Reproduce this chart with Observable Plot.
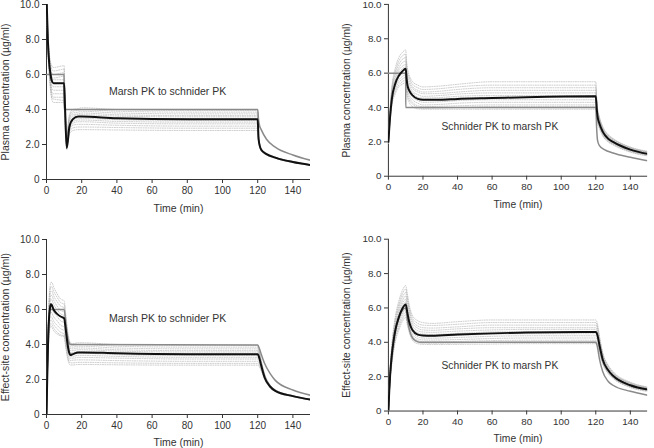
<!DOCTYPE html>
<html>
<head>
<meta charset="utf-8">
<script src="https://cdn.jsdelivr.net/npm/d3@7"></script>
<script src="https://cdn.jsdelivr.net/npm/@observablehq/plot@0.6"></script>
<style>
  html, body { margin: 0; padding: 0; background: #fff; }
  #wrap { position: relative; width: 654px; height: 448px; overflow: hidden; background: #fff; }
  .panel { position: absolute; }
</style>
</head>
<body>
<div id="wrap"></div>
<script>
// ---------- shared ticks ----------
const xTicks = [0, 20, 40, 60, 80, 100, 120, 140];
const yTicks = [0, 2, 4, 6, 8, 10];
const yTickLabels = ["0", "2.0", "4.0", "6.0", "8.0", "10.0"];
const xLabel = "Time (min)";
const yLabelPlasma = "Plasma concentration (µg/ml)";
const yLabelEffect = "Effect-site concentration (µg/ml)";
const noteMarshToSchnider = "Marsh PK to schnider PK";
const noteSchniderToMarsh = "Schnider PK to marsh PK";

// ---------- Panel 1: plasma, Marsh PK to Schnider PK ----------
const p1Time = [0,0.75,1.5,2.3,3,4,10,10.5,11.5,13,15,18,20,40,80,120,120.5,122,125,130,140,150];
const p1Mean = [10.5,8.0,6.7,6.0,5.65,5.5,5.5,4.2,1.8,3.0,3.45,3.6,3.6,3.5,3.45,3.45,2.3,1.7,1.45,1.25,1.0,0.83];
const p1Indiv = [
  [10.5,8.6,7.3,6.7,6.5,6.4,6.5,4.8,2.6,3.7,4.0,4.05,4.1,4.0,3.95,3.95,2.5,1.76,1.5,1.28,1.02,0.85],
  [10.5,8.5,7.2,6.6,6.3,6.2,6.3,4.6,2.5,3.6,3.9,3.95,4.0,3.9,3.85,3.85,2.45,1.75,1.49,1.28,1.02,0.85],
  [10.5,8.4,7.0,6.4,6.1,6.0,6.1,4.5,2.4,3.5,3.8,3.85,3.9,3.8,3.75,3.75,2.45,1.74,1.48,1.27,1.01,0.84],
  [10.5,8.3,6.9,6.2,5.9,5.8,5.9,4.4,2.3,3.4,3.7,3.75,3.8,3.7,3.65,3.65,2.4,1.73,1.47,1.26,1.01,0.84],
  [10.5,8.2,6.8,6.1,5.8,5.7,5.7,4.3,2.2,3.3,3.6,3.7,3.7,3.62,3.58,3.58,2.4,1.72,1.46,1.26,1.0,0.84],
  [10.5,8.1,6.7,6.0,5.6,5.5,5.5,4.2,2.1,3.2,3.5,3.6,3.6,3.52,3.48,3.48,2.35,1.71,1.46,1.25,1.0,0.83],
  [10.5,8.0,6.6,5.8,5.4,5.3,5.3,4.1,2.0,3.1,3.4,3.5,3.5,3.42,3.38,3.38,2.35,1.7,1.45,1.25,0.99,0.83],
  [10.5,7.9,6.5,5.7,5.2,5.1,5.1,3.9,1.9,3.0,3.3,3.4,3.4,3.32,3.28,3.28,2.3,1.69,1.44,1.24,0.99,0.83],
  [10.5,7.8,6.4,5.5,5.0,4.9,4.9,3.8,1.9,2.9,3.2,3.3,3.3,3.22,3.18,3.18,2.3,1.68,1.44,1.24,0.98,0.82],
  [10.5,7.7,6.3,5.4,4.9,4.7,4.7,3.6,1.8,2.8,3.1,3.15,3.15,3.1,3.05,3.05,2.25,1.67,1.43,1.23,0.98,0.82],
  [10.5,7.6,6.2,5.2,4.7,4.6,4.5,3.5,1.8,2.7,2.95,3.0,3.0,2.97,2.93,2.93,2.2,1.66,1.42,1.22,0.97,0.81],
  [10.5,7.5,6.1,5.1,4.6,4.4,4.4,3.4,1.7,2.6,2.8,2.85,2.85,2.83,2.8,2.8,2.2,1.65,1.41,1.21,0.97,0.81]
];
const p1GrayTime = [0,10,10.01,120,120.5,121,122,125,130,140,150];
const p1Gray = [6.0,6.0,4.0,4.0,3.4,3.1,2.85,2.3,1.85,1.4,1.1];

// ---------- Panel 2: plasma, Schnider PK to Marsh PK ----------
const p2Time = [0,1,2,4,6,8,10,10.5,11,12,14,17,20,30,40,60,80,120,120.5,121,122,124,127,130,140,150];
const p2Mean = [2.0,3.5,4.5,5.4,5.85,6.1,6.25,5.7,5.3,5.0,4.7,4.5,4.45,4.45,4.5,4.55,4.6,4.65,4.0,3.5,3.1,2.6,2.2,2.0,1.55,1.3];
const p2Indiv = [
  [2.2,4.0,5.2,6.3,6.9,7.2,7.35,6.7,6.3,5.9,5.5,5.3,5.2,5.25,5.35,5.5,5.5,5.5,4.6,4.0,3.5,2.9,2.45,2.2,1.7,1.45],
  [2.15,3.9,5.1,6.1,6.7,7.0,7.1,6.5,6.1,5.75,5.35,5.15,5.05,5.1,5.2,5.3,5.3,5.3,4.5,3.9,3.45,2.85,2.4,2.17,1.68,1.43],
  [2.1,3.8,5.0,5.95,6.5,6.8,6.9,6.3,5.9,5.6,5.2,5.0,4.9,4.95,5.05,5.15,5.15,5.15,4.4,3.8,3.4,2.8,2.37,2.14,1.66,1.41],
  [2.1,3.75,4.9,5.8,6.3,6.6,6.7,6.1,5.75,5.45,5.1,4.9,4.8,4.82,4.9,5.0,5.0,5.0,4.3,3.75,3.35,2.75,2.33,2.1,1.63,1.39],
  [2.05,3.7,4.8,5.65,6.15,6.4,6.5,5.95,5.6,5.3,4.95,4.75,4.65,4.7,4.78,4.85,4.85,4.85,4.2,3.7,3.3,2.7,2.3,2.07,1.61,1.37],
  [2.05,3.6,4.7,5.55,6.0,6.25,6.35,5.8,5.45,5.15,4.85,4.6,4.55,4.58,4.65,4.7,4.7,4.7,4.1,3.6,3.2,2.65,2.25,2.03,1.58,1.34],
  [2.0,3.55,4.6,5.45,5.9,6.1,6.2,5.7,5.35,5.05,4.75,4.5,4.45,4.48,4.55,4.6,4.6,4.6,4.0,3.5,3.1,2.6,2.2,2.0,1.55,1.32],
  [2.0,3.5,4.5,5.3,5.75,5.95,6.05,5.55,5.2,4.9,4.6,4.4,4.3,4.33,4.4,4.45,4.45,4.45,3.9,3.45,3.05,2.55,2.16,1.96,1.52,1.29],
  [1.95,3.4,4.4,5.2,5.6,5.8,5.9,5.4,5.05,4.75,4.45,4.25,4.15,4.18,4.25,4.3,4.3,4.3,3.8,3.35,3.0,2.5,2.12,1.93,1.49,1.27],
  [1.95,3.35,4.3,5.05,5.45,5.65,5.75,5.25,4.9,4.6,4.3,4.1,4.05,4.07,4.1,4.15,4.15,4.15,3.7,3.3,2.95,2.45,2.08,1.9,1.46,1.24],
  [1.9,3.3,4.2,4.95,5.3,5.5,5.6,5.1,4.75,4.45,4.2,4.0,3.95,3.97,4.0,4.05,4.05,4.05,3.6,3.2,2.9,2.4,2.04,1.86,1.43,1.21],
  [1.9,3.2,4.1,4.8,5.2,5.35,5.45,4.95,4.6,4.3,4.05,3.92,3.9,3.9,3.9,3.9,3.9,3.9,3.5,3.1,2.8,2.35,2.0,1.82,1.4,1.18]
];
const p2GrayTime = [0,10,10.01,120,120.5,121,122,125,130,140,150];
const p2Gray = [6.0,6.0,4.0,4.0,2.8,2.1,1.8,1.55,1.35,1.1,0.9];

// ---------- Panel 3: effect-site, Marsh PK to Schnider PK ----------
const p3Time = [0,0.5,1,1.5,2,2.5,3,4,6,8,10,11,12,13,13.5,15,18,20,40,80,120,121,122,124,127,130,140,150];
const p3Mean = [0,2.5,4.5,5.6,6.1,6.3,6.25,6.0,5.75,5.6,5.5,4.8,4.0,3.5,3.4,3.45,3.55,3.55,3.5,3.45,3.45,3.2,2.8,2.1,1.6,1.35,1.05,0.85];
const p3Indiv = [
  [0,2.8,5.2,6.6,7.3,7.55,7.55,7.3,6.9,6.6,6.5,5.7,4.8,4.25,4.1,4.05,4.1,4.1,4.0,3.95,3.95,3.6,3.1,2.3,1.7,1.42,1.08,0.87],
  [0,2.75,5.1,6.45,7.1,7.3,7.3,7.05,6.7,6.4,6.3,5.5,4.65,4.15,4.0,3.95,4.0,4.0,3.9,3.85,3.85,3.55,3.05,2.28,1.69,1.41,1.07,0.86],
  [0,2.7,4.95,6.25,6.85,7.05,7.05,6.8,6.45,6.2,6.1,5.35,4.5,4.0,3.88,3.85,3.9,3.9,3.8,3.75,3.75,3.5,3.0,2.25,1.68,1.4,1.07,0.86],
  [0,2.65,4.8,6.05,6.6,6.8,6.8,6.55,6.2,5.95,5.85,5.15,4.35,3.9,3.78,3.75,3.8,3.8,3.7,3.65,3.65,3.4,2.95,2.22,1.66,1.39,1.06,0.86],
  [0,2.6,4.7,5.85,6.4,6.6,6.55,6.3,6.0,5.75,5.65,4.95,4.2,3.78,3.66,3.65,3.7,3.7,3.62,3.57,3.57,3.35,2.9,2.2,1.65,1.38,1.06,0.86],
  [0,2.5,4.55,5.7,6.2,6.35,6.3,6.05,5.8,5.55,5.45,4.8,4.05,3.65,3.55,3.55,3.6,3.6,3.52,3.47,3.47,3.25,2.85,2.15,1.63,1.37,1.05,0.85],
  [0,2.45,4.4,5.5,6.0,6.1,6.05,5.85,5.6,5.35,5.25,4.6,3.9,3.55,3.45,3.45,3.5,3.5,3.42,3.37,3.37,3.2,2.8,2.12,1.62,1.36,1.05,0.85],
  [0,2.35,4.25,5.3,5.75,5.85,5.8,5.6,5.35,5.1,5.0,4.4,3.75,3.42,3.33,3.33,3.38,3.38,3.32,3.27,3.27,3.1,2.75,2.1,1.6,1.35,1.04,0.84],
  [0,2.3,4.1,5.1,5.5,5.6,5.55,5.35,5.1,4.9,4.8,4.2,3.6,3.3,3.22,3.22,3.26,3.26,3.22,3.17,3.17,3.0,2.7,2.07,1.59,1.34,1.04,0.84],
  [0,2.2,3.95,4.9,5.3,5.4,5.35,5.15,4.9,4.7,4.6,4.05,3.45,3.15,3.08,3.1,3.12,3.12,3.08,3.04,3.04,2.9,2.62,2.03,1.57,1.33,1.03,0.84],
  [0,2.15,3.8,4.7,5.1,5.2,5.15,4.95,4.7,4.55,4.5,3.9,3.3,3.0,2.95,2.95,2.98,2.98,2.95,2.92,2.92,2.8,2.55,2.0,1.56,1.32,1.03,0.83],
  [0,2.1,3.7,4.6,4.95,5.05,5.0,4.8,4.6,4.5,4.45,3.8,3.2,2.88,2.83,2.83,2.86,2.86,2.84,2.82,2.82,2.72,2.5,1.98,1.55,1.31,1.02,0.83]
];
const p3GrayTime = [0,0.5,1,1.5,2.3,10,11,12,13,14,120,121,122,124,127,130,140,150];
const p3Gray = [0,2.6,4.5,5.6,6.0,6.0,5.2,4.4,4.05,4.0,3.97,3.75,3.45,2.9,2.35,1.95,1.4,1.1];

// ---------- Panel 4: effect-site, Schnider PK to Marsh PK ----------
const p4Time = [0,0.5,1,2,3,4,6,8,10,11,12,13,14,17,20,25,40,60,80,120,121,122,124,127,130,140,150];
const p4Mean = [0,1.2,2.1,3.3,4.1,4.7,5.45,5.95,6.2,5.7,5.2,4.9,4.7,4.45,4.4,4.38,4.45,4.52,4.57,4.6,4.4,3.9,3.0,2.4,2.05,1.5,1.25];
const p4Indiv = [
  [0,1.4,2.5,3.9,4.8,5.5,6.4,7.0,7.3,6.8,6.2,5.8,5.55,5.25,5.15,5.1,5.2,5.3,5.3,5.3,5.05,4.45,3.4,2.7,2.3,1.68,1.4],
  [0,1.35,2.4,3.75,4.65,5.35,6.2,6.8,7.1,6.6,6.05,5.65,5.4,5.1,5.0,4.98,5.05,5.15,5.15,5.15,4.9,4.35,3.35,2.65,2.25,1.65,1.38],
  [0,1.3,2.35,3.65,4.5,5.2,6.05,6.6,6.9,6.4,5.9,5.5,5.25,4.95,4.85,4.83,4.9,5.0,5.0,5.0,4.8,4.25,3.3,2.6,2.22,1.62,1.36],
  [0,1.3,2.3,3.55,4.4,5.05,5.9,6.4,6.7,6.2,5.75,5.35,5.1,4.82,4.72,4.7,4.78,4.85,4.85,4.85,4.65,4.15,3.22,2.55,2.18,1.6,1.34],
  [0,1.25,2.2,3.45,4.3,4.9,5.75,6.25,6.5,6.0,5.55,5.2,4.95,4.68,4.6,4.58,4.65,4.72,4.75,4.75,4.55,4.05,3.15,2.5,2.14,1.57,1.32],
  [0,1.2,2.15,3.35,4.15,4.8,5.6,6.1,6.35,5.85,5.4,5.05,4.82,4.55,4.48,4.46,4.52,4.6,4.62,4.62,4.45,3.95,3.05,2.45,2.1,1.54,1.29],
  [0,1.2,2.1,3.25,4.05,4.65,5.45,5.95,6.2,5.7,5.25,4.92,4.7,4.43,4.36,4.35,4.4,4.47,4.5,4.5,4.35,3.85,3.0,2.4,2.06,1.51,1.27],
  [0,1.15,2.05,3.15,3.95,4.55,5.3,5.8,6.05,5.55,5.1,4.8,4.58,4.32,4.25,4.24,4.28,4.35,4.38,4.38,4.25,3.78,2.95,2.36,2.03,1.49,1.25],
  [0,1.1,2.0,3.05,3.85,4.4,5.15,5.65,5.9,5.4,4.95,4.65,4.45,4.2,4.14,4.13,4.16,4.22,4.25,4.25,4.12,3.7,2.9,2.32,2.0,1.46,1.23],
  [0,1.05,1.9,2.95,3.7,4.3,5.0,5.5,5.75,5.25,4.82,4.52,4.32,4.1,4.04,4.03,4.05,4.1,4.12,4.12,4.0,3.6,2.85,2.28,1.96,1.43,1.2],
  [0,1.0,1.85,2.85,3.6,4.15,4.85,5.35,5.6,5.1,4.7,4.4,4.2,4.0,3.95,3.94,3.96,4.0,4.02,4.02,3.92,3.52,2.8,2.24,1.93,1.4,1.17],
  [0,1.0,1.8,2.75,3.5,4.05,4.7,5.2,5.45,4.98,4.58,4.28,4.1,3.92,3.88,3.87,3.88,3.9,3.92,3.92,3.82,3.45,2.75,2.2,1.9,1.37,1.14]
];
const p4GrayTime = [0,0.5,1,2,3,4,6,8,10,11,12,13,14,16,18,120,121,122,124,127,130,140,150];
const p4Gray = [0,1.2,2.1,3.3,4.1,4.7,5.4,5.85,6.0,5.3,4.8,4.45,4.25,4.08,4.0,4.0,3.7,3.1,2.3,1.75,1.5,1.15,0.92];

// ---------- helpers ----------
const toRows = (time, vals, id = 0) => vals.map((v, i) => ({t: time[i], v, id}));
const indivRows = (time, series) => series.flatMap((vals, k) => toRows(time, vals, k));
const fmtY = d => yTickLabels[yTicks.indexOf(d)];

const FONT = "'Liberation Sans', Arial, Helvetica, sans-serif";

const panels = [
  {left: 0,   top: 0,   width: 327, ml: 46, mr: 17, mt: 4,  mb: 45, ylab: yLabelPlasma, ylabDx: -41, xlabDy: 29,
   note: noteMarshToSchnider, noteX: 68.8, noteY: 5.04,
   time: p1Time, mean: p1Mean, indiv: p1Indiv, gTime: p1GrayTime, gray: p1Gray},
  {left: 330, top: 0,   width: 330, ml: 59, mr: 7,  mt: 4,  mb: 45, ylab: yLabelPlasma, ylabDx: -42, xlabDy: 29,
   note: noteSchniderToMarsh, noteX: 64.5, noteY: 2.89,
   time: p2Time, mean: p2Mean, indiv: p2Indiv, gTime: p2GrayTime, gray: p2Gray},
  {left: 0,   top: 224, width: 327, ml: 46, mr: 17, mt: 15, mb: 34, ylab: yLabelEffect, ylabDx: -41, xlabDy: 28,
   note: noteMarshToSchnider, noteX: 68.8, noteY: 5.47,
   time: p3Time, mean: p3Mean, indiv: p3Indiv, gTime: p3GrayTime, gray: p3Gray},
  {left: 330, top: 224, width: 330, ml: 59, mr: 7,  mt: 15, mb: 34, ylab: yLabelEffect, ylabDx: -42, xlabDy: 28,
   note: noteSchniderToMarsh, noteX: 64.5, noteY: 2.63,
   time: p4Time, mean: p4Mean, indiv: p4Indiv, gTime: p4GrayTime, gray: p4Gray}
];

const wrap = document.getElementById("wrap");
for (const p of panels) {
  const chart = Plot.plot({
    width: p.width,
    height: 224,
    marginLeft: p.ml, marginRight: p.mr, marginTop: p.mt, marginBottom: p.mb,
    style: {fontFamily: FONT, fontSize: "10px", color: "#333", background: "transparent", overflow: "visible"},
    x: {domain: [0, 150]},
    y: {domain: [0, 10]},
    marks: [
      Plot.axisX({ticks: xTicks, tickSize: 4, tickPadding: 3, label: null, stroke: "#333"}),
      Plot.axisY({ticks: yTicks, tickFormat: fmtY, tickSize: 4, tickPadding: 3, label: null, stroke: "#333"}),
      Plot.ruleX([0], {stroke: "#333", strokeWidth: 1}),
      Plot.ruleY([0], {stroke: "#333", strokeWidth: 1}),
      Plot.line(indivRows(p.time, p.indiv), {x: "t", y: "v", z: "id", stroke: "#a8a8a8", strokeWidth: 0.6,
        strokeDasharray: "1,1.4", curve: "monotone-x", clip: true}),
      Plot.line(toRows(p.gTime, p.gray), {x: "t", y: "v", stroke: "#8a8a8a", strokeWidth: 1.5, curve: "monotone-x", clip: true}),
      Plot.line(toRows(p.time, p.mean), {x: "t", y: "v", stroke: "#111", strokeWidth: 2, curve: "monotone-x", clip: true}),
      Plot.text([p.note], {x: () => p.noteX, y: () => p.noteY, text: d => d, fontSize: 10.5, fill: "#333"}),
      Plot.text([xLabel], {frameAnchor: "bottom", lineAnchor: "middle", dy: p.xlabDy, text: d => d, fontSize: 10.5, fill: "#333"}),
      Plot.text([p.ylab], {frameAnchor: "left", textAnchor: "middle", lineAnchor: "middle", dx: p.ylabDx, rotate: -90,
        text: d => d, fontSize: 10.5, fill: "#333"})
    ]
  });
  const div = document.createElement("div");
  div.className = "panel";
  div.style.left = p.left + "px";
  div.style.top = p.top + "px";
  div.appendChild(chart);
  wrap.appendChild(div);
}
</script>
</body>
</html>
